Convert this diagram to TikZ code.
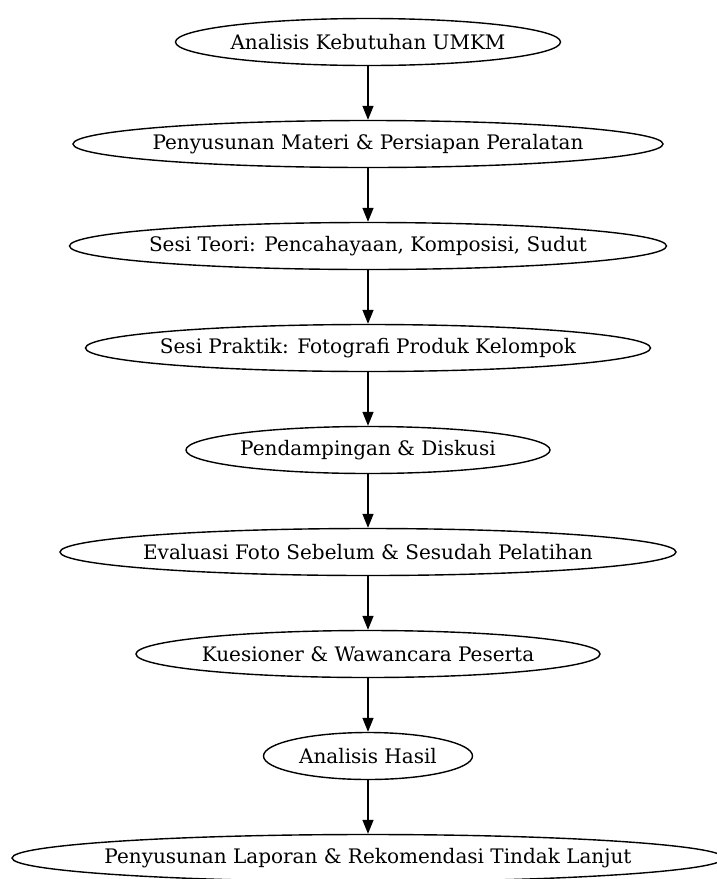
\documentclass[tikz,border=0pt]{standalone}
\usepackage{fontspec}
\setmainfont{DejaVu Serif}
\usetikzlibrary{shapes.geometric,arrows.meta}
\tikzset{>={Triangle[length=14pt,width=11pt]}}
\tikzset{stage/.style={ellipse,draw,line width=1.4pt,inner xsep=-40pt,inner ysep=0pt,
    minimum height=47pt,minimum width=#1,font=\fontsize{20}{24}\selectfont}}

\begin{document}
\begin{tikzpicture}[x=1pt,y=-1pt]
\useasboundingbox (0,0) rectangle (716,879);
    \node[stage=385pt] (kebutuhan) at (368,42) {Analisis Kebutuhan UMKM};
    \node[stage=590pt] (materi) at (368,144) {Penyusunan Materi \& Persiapan Peralatan};
    \node[stage=597pt] (teori) at (368,246) {Sesi Teori: Pencahayaan, Komposisi, Sudut};
    \node[stage=565pt] (praktik) at (368,348) {Sesi Praktik: Fotografi Produk Kelompok};
    \node[stage=364pt] (pendampingan) at (368,450) {Pendampingan \& Diskusi};
    \node[stage=616pt] (evaluasi) at (368,552) {Evaluasi Foto Sebelum \& Sesudah Pelatihan};
    \node[stage=464pt] (kuesioner) at (368,654) {Kuesioner \& Wawancara Peserta};
    \node[stage=209pt] (analisis) at (368,756) {Analisis Hasil};
    \node[stage=712pt] (laporan) at (368,858) {Penyusunan Laporan \& Rekomendasi Tindak Lanjut};
    \draw[line width=1.4pt,->] (kebutuhan)--(materi);
    \draw[line width=1.4pt,->] (materi)--(teori);
    \draw[line width=1.4pt,->] (teori)--(praktik);
    \draw[line width=1.4pt,->] (praktik)--(pendampingan);
    \draw[line width=1.4pt,->] (pendampingan)--(evaluasi);
    \draw[line width=1.4pt,->] (evaluasi)--(kuesioner);
    \draw[line width=1.4pt,->] (kuesioner)--(analisis);
    \draw[line width=1.4pt,->] (analisis)--(laporan);
\end{tikzpicture}
\end{document}
